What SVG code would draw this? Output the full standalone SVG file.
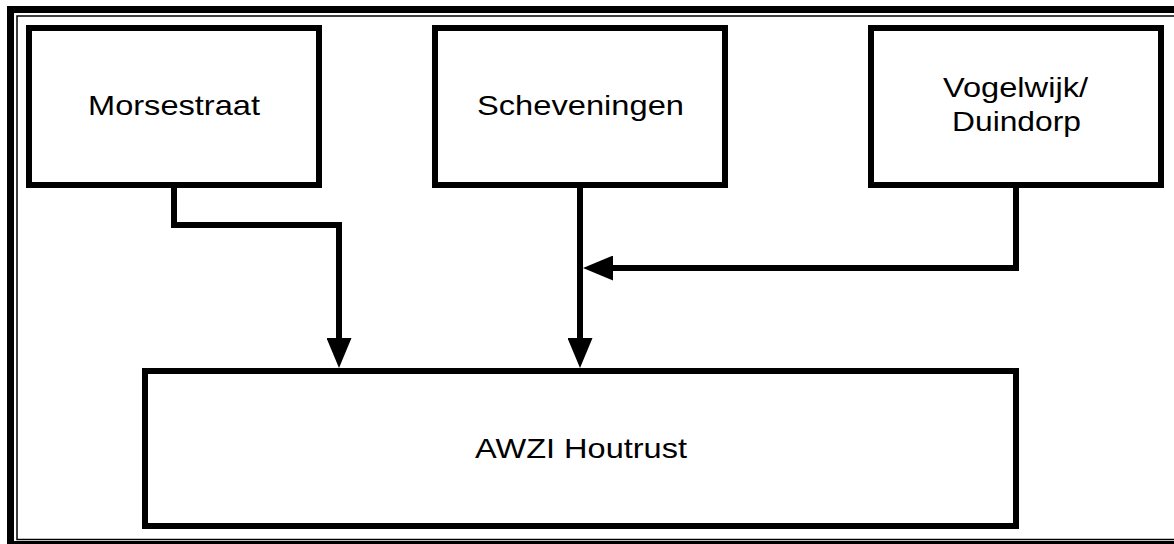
<svg xmlns="http://www.w3.org/2000/svg" width="1174" height="544" viewBox="0 0 1174 544">
  <style>
    .box { fill: #ffffff; stroke: #000000; stroke-width: 6; }
    .lbl { font-family: "Liberation Sans", Arial, sans-serif; font-size: 28px; fill: #000000; text-anchor: middle; }
    .conn { fill: none; stroke: #000000; stroke-width: 6; stroke-linejoin: miter; }
  </style>
  <defs>
    <marker id="arrow" viewBox="0 0 30 25" refX="22" refY="12.5" markerWidth="30" markerHeight="25" markerUnits="userSpaceOnUse" orient="auto">
      <path d="M0,0 L30,12.5 L0,25 Z" fill="#000000"/>
    </marker>
  </defs>
  <rect x="0" y="0" width="1174" height="544" fill="#ffffff"/>
  <g id="frame">
    <rect x="10.5" y="9.5" width="1200" height="535" fill="none" stroke="#000000" stroke-width="7"/>
    <rect x="17" y="16" width="1200" height="523.5" fill="none" stroke="#000000" stroke-width="1.5"/>
  </g>
  <g id="connectors">
    <path class="conn" d="M174,185 V225 H339 V360" marker-end="url(#arrow)"/>
    <path class="conn" d="M580,185 V360" marker-end="url(#arrow)"/>
    <path class="conn" d="M1016,185 V268 H591" marker-end="url(#arrow)"/>
  </g>
  <g id="node-morsestraat">
    <rect class="box" x="29" y="28" width="290" height="157"/>
    <text class="lbl" x="174" y="115" textLength="172" lengthAdjust="spacingAndGlyphs">Morsestraat</text>
  </g>
  <g id="node-scheveningen">
    <rect class="box" x="435" y="28" width="290" height="157"/>
    <text class="lbl" x="580.5" y="115" textLength="207" lengthAdjust="spacingAndGlyphs">Scheveningen</text>
  </g>
  <g id="node-vogelwijk">
    <rect class="box" x="871" y="28" width="290" height="157"/>
    <text class="lbl" x="1015.5" y="97" textLength="145" lengthAdjust="spacingAndGlyphs">Vogelwijk/</text>
    <text class="lbl" x="1016.5" y="131" textLength="129" lengthAdjust="spacingAndGlyphs">Duindorp</text>
  </g>
  <g id="node-awzi">
    <rect class="box" x="145" y="371" width="871" height="155"/>
    <text class="lbl" x="581" y="458" textLength="212" lengthAdjust="spacingAndGlyphs">AWZI Houtrust</text>
  </g>
</svg>
